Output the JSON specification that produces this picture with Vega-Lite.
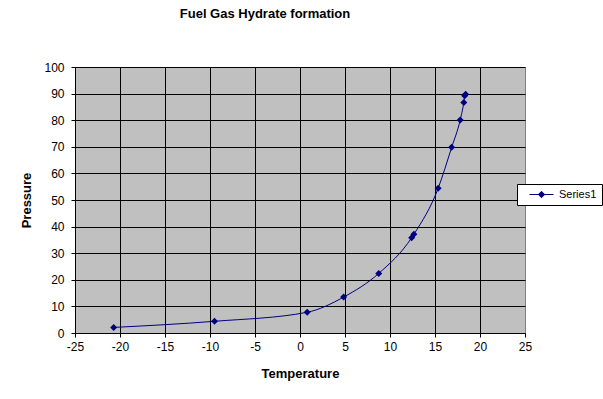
{
  "$schema": "https://vega.github.io/schema/vega-lite/v6.json",
  "width": 450,
  "height": 266,
  "autosize": {"type": "none"},
  "padding": {"left": 75, "top": 67, "right": 78, "bottom": 66},
  "background": "white",
  "config": {
    "view": {"fill": "#C0C0C0", "stroke": "#808080", "strokeWidth": 1},
    "font": "Liberation Sans"
  },
  "title": {
    "text": "Fuel Gas Hydrate formation",
    "fontSize": 13,
    "fontWeight": "bold",
    "font": "Liberation Sans",
    "color": "black",
    "anchor": "middle",
    "frame": "group",
    "dx": -35,
    "offset": 40
  },
  "data": {
    "values": [
      {"t": -20.7, "p": 2.1, "series": "Series1"},
      {"t": -9.5, "p": 4.4, "series": "Series1"},
      {"t": 0.8, "p": 7.8, "series": "Series1"},
      {"t": 4.85, "p": 13.5, "series": "Series1"},
      {"t": 8.75, "p": 22.4, "series": "Series1"},
      {"t": 12.4, "p": 35.8, "series": "Series1"},
      {"t": 12.65, "p": 37.1, "series": "Series1"},
      {"t": 15.35, "p": 54.4, "series": "Series1"},
      {"t": 16.85, "p": 69.8, "series": "Series1"},
      {"t": 17.8, "p": 80.1, "series": "Series1"},
      {"t": 18.2, "p": 86.7, "series": "Series1"},
      {"t": 18.3, "p": 89.2, "series": "Series1"},
      {"t": 18.4, "p": 89.8, "series": "Series1"}
    ]
  },
  "encoding": {
    "x": {
      "field": "t",
      "type": "quantitative",
      "scale": {"domain": [-25, 25], "nice": false, "zero": false},
      "axis": {
        "title": "Temperature",
        "values": [-25, -20, -15, -10, -5, 0, 5, 10, 15, 20, 25],
        "labelExpr": "'' + datum.value",
        "grid": true,
        "gridColor": {"condition": {"test": "datum.value == 25", "value": "#808080"}, "value": "black"},
        "gridOpacity": 1,
        "gridWidth": 1,
        "domainColor": "black",
        "tickColor": "black",
        "tickSize": 4,
        "labelFontSize": 12,
        "labelFont": "Liberation Sans",
        "labelColor": "black",
        "labelPadding": 4,
        "labelFlush": false,
        "labelOverlap": false,
        "titleFontSize": 13,
        "titleFont": "Liberation Sans",
        "titleFontWeight": "bold",
        "titleColor": "black",
        "titlePadding": 15
      }
    },
    "y": {
      "field": "p",
      "type": "quantitative",
      "scale": {"domain": [0, 100], "nice": false},
      "axis": {
        "title": "Pressure",
        "values": [0, 10, 20, 30, 40, 50, 60, 70, 80, 90, 100],
        "grid": true,
        "gridColor": "black",
        "gridOpacity": 1,
        "gridWidth": 1,
        "domainColor": "black",
        "tickColor": "black",
        "tickSize": 4,
        "labelFontSize": 12,
        "labelFont": "Liberation Sans",
        "labelColor": "black",
        "labelPadding": 7,
        "labelFlush": false,
        "labelOverlap": false,
        "titleFontSize": 13,
        "titleFont": "Liberation Sans",
        "titleFontWeight": "bold",
        "titleColor": "black",
        "titlePadding": 10
      }
    },
    "color": {
      "field": "series",
      "type": "nominal",
      "scale": {"range": ["#000080"]},
      "legend": {
        "title": null,
        "orient": "none",
        "legendX": 442,
        "legendY": 117,
        "fillColor": "white",
        "strokeColor": "black",
        "padding": 5,
        "symbolType": "M-3,0L3,0M0,-0.8L0.8,0L0,0.8L-0.8,0Z",
        "symbolSize": 64,
        "symbolOffset": 14,
        "labelOffset": 12,
        "labelFontSize": 11,
        "labelFont": "Liberation Sans",
        "labelColor": "black",
        "symbolStrokeWidth": 1,
        "encode": {
          "symbols": {
            "update": {
              "fill": {"value": "#000080"},
              "stroke": {"value": "#000080"},
              "opacity": {"value": 1},
              "strokeWidth": {"value": 1}
            }
          }
        }
      }
    }
  },
  "layer": [
    {
      "mark": {"type": "line", "interpolate": "monotone", "strokeWidth": 1}
    },
    {
      "mark": {"type": "point", "shape": "diamond", "filled": true, "size": 49, "opacity": 1}
    }
  ]
}
